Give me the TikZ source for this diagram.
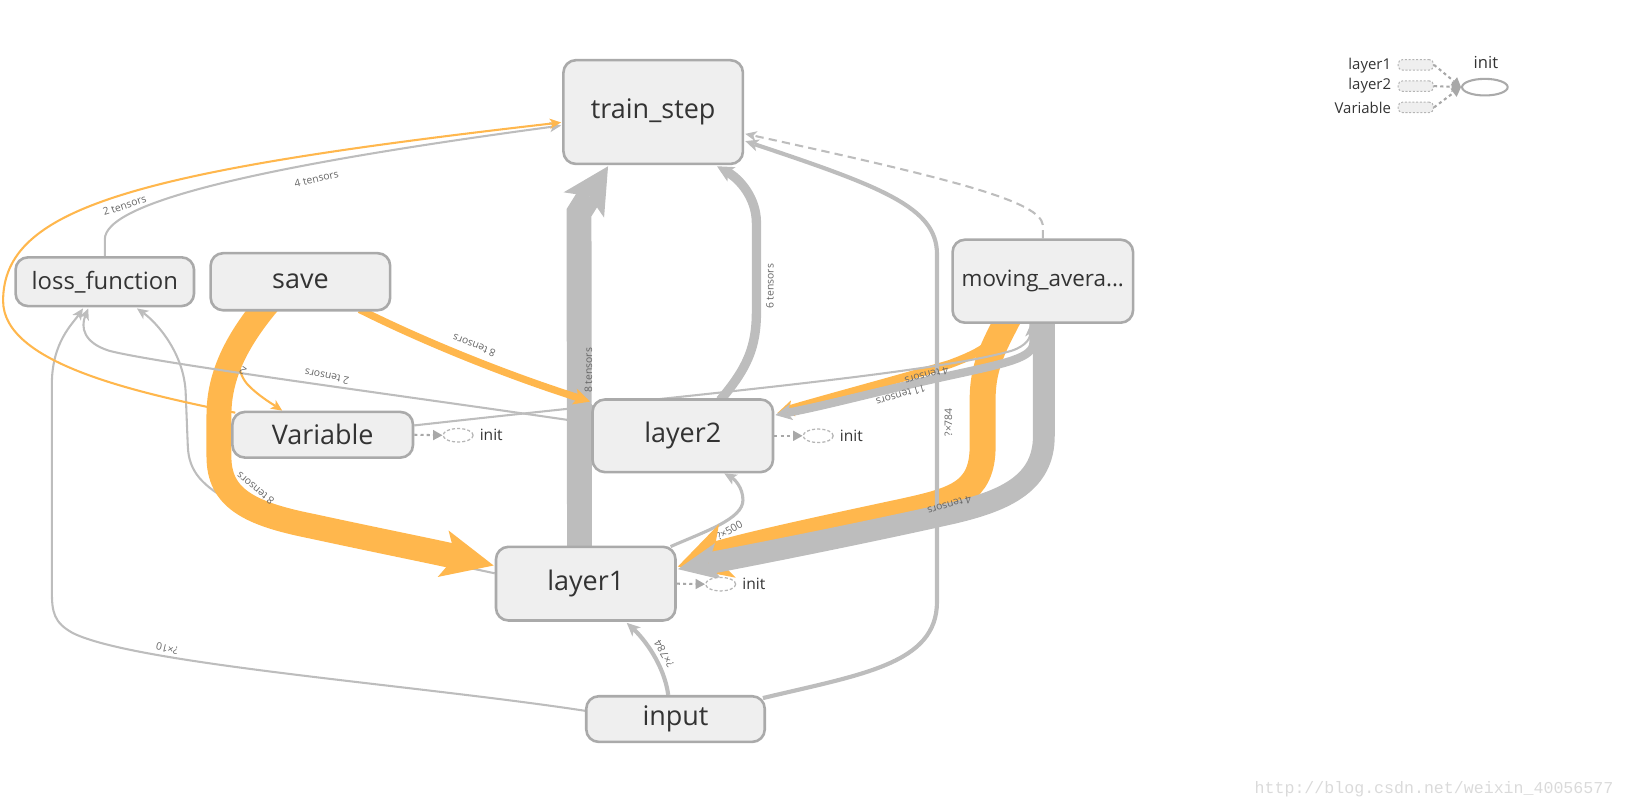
\documentclass[tikz,border=0pt]{standalone}
\usepackage{fontspec}
\setmainfont{Open Sans}
\newfontfamily\wmfont{Liberation Mono}
\usetikzlibrary{arrows.meta,calc,backgrounds,shapes.geometric}
\definecolor{ndfill}{HTML}{EFEFEF}
\definecolor{ndborder}{HTML}{AAAAAA}
\definecolor{ndtext}{HTML}{333333}
\definecolor{eg}{HTML}{BDBDBD}
\definecolor{eo}{HTML}{FFB74D}
\definecolor{labc}{HTML}{666666}
\definecolor{initc}{HTML}{B5B5B5}
\definecolor{dotgray}{HTML}{A8A8A8}
\definecolor{wmc}{HTML}{DADADA}
\tikzset{
  nd/.style={draw=ndborder, fill=ndfill, line width=1.25pt, rounded corners=6pt, text=ndtext, inner sep=0pt, font=\fontsize{13}{15}\selectfont},
  elab/.style={text=labc, font=\fontsize{5}{6}\selectfont, inner sep=0pt},
  ge/.style={draw=eg, line width=1pt},
  oe/.style={draw=eo, line width=1pt},
  dotc/.style={draw=dotgray, line width=1pt, dash pattern=on 1.5pt off 1.5pt},
  initell/.style={draw=initc, line width=0.6pt, dash pattern=on 1.5pt off 1pt, ellipse, minimum width=14.5pt, minimum height=6.5pt, inner sep=0pt, fill=white},
  inittxt/.style={text=ndtext, font=\fontsize{7.5}{8}\selectfont, inner sep=0pt, anchor=west},
  legtxt/.style={text=ndtext, font=\fontsize{7.2}{8}\selectfont, inner sep=0pt, anchor=east},
  legbox/.style={draw=initc, dash pattern=on 1pt off 0.8pt, line width=0.5pt, fill=ndfill, rounded corners=2pt, minimum width=17pt, minimum height=5pt, inner sep=0pt},
  tipthin/.style={-{Stealth[length=5.5pt,width=5pt,inset=1.5pt,line width=0pt]}},
  tipdot/.style={-{Triangle[length=4.5pt,width=5pt,line width=0pt]}},
  tipP/.style={-{Stealth[length=6pt,width=5.5pt,inset=1.5pt,line width=0pt]}},
  tipQ/.style={-{Stealth[length=6.5pt,width=6pt,inset=1.8pt,line width=0pt]}},
  tipM/.style={-{Stealth[length=8pt,width=8pt,inset=2pt,line width=0pt]}},
  tipA/.style={-{Stealth[length=22pt,width=23pt,inset=5pt,line width=0pt]}},
  tipG/.style={-{Stealth[length=25pt,width=23pt,inset=6pt,line width=0pt]}},
  tipN/.style={-{Stealth[length=25pt,width=27pt,inset=7pt,line width=0pt]}},
  tipO/.style={-{Stealth[length=20pt,width=18pt,inset=5pt,line width=0pt]}},
}
\begin{document}
\begin{tikzpicture}[x=0.5pt,y=-0.5pt,line join=round]
\useasboundingbox (0,0) rectangle (1568,780);
% ---------------- nodes
\node[nd, minimum width=86.5pt, minimum height=50pt] (train) at (629.5,108) {train\_step};
\node[nd, minimum width=86pt, minimum height=23.5pt, font=\fontsize{11.5}{13}\selectfont] (loss) at (101,271.5) {loss\_function};
\node[nd, minimum width=86.5pt, minimum height=27.5pt] (save) at (289.5,271.5) {save};
\node[nd, minimum width=87pt, minimum height=40pt, font=\fontsize{10.8}{12}\selectfont] (mov) at (1005,271) {moving\_avera...};
\node[nd, minimum width=87pt, minimum height=22pt] (var) at (311,419) {Variable};
\node[nd, minimum width=87pt, minimum height=35pt] (l2) at (658,420) {layer2};
\node[nd, minimum width=86.5pt, minimum height=35.5pt] (l1) at (564.5,562.5) {layer1};
\node[nd, minimum width=86pt, minimum height=22pt] (inp) at (651,693) {input};
% ---------------- edges (behind nodes)
\begin{pgfonlayer}{background}
% layer1 -> loss_function (runs under the orange band)
\draw[ge, tipthin] ($(l1.west)+(0,-10)$) .. controls (380,532) and (270,510) .. (225,485) .. controls (195,468) and (182,455) .. (181,430) -- (179,380) .. controls (178,340) and (150,310) .. ($(loss.south)+(31,1)$);
% save -> layer1
\draw[oe, line width=12pt, tipG] ($(save.south)+(-28,-12)$) .. controls (230,325) and (211,360) .. (211,400) -- (211,440) .. controls (211,480) and (240,495) .. (300,507) .. controls (360,520) and (420,532) .. ($(l1.west)+(-1,-17.5)$);
% layer1 -> layer2
\draw[ge, line width=1.5pt, tipP] ($(l1.north east)+(-6,1)$) .. controls (680,512) and (716,500) .. (716,482) .. controls (716,470) and (708,462) .. ($(l2.south)+(40,0)$);
\node[elab, rotate=30] (lbP) at (703,511) {?×500};
% moving_average -> layer1
\draw[oe, line width=12.5pt, tipN] ($(mov.south)+(-30,-12)$) .. controls (960,330) and (947,350) .. (947,385) -- (947,430) .. controls (947,475) and (920,482) .. (870,493) .. controls (800,508) and (720,525) .. ($(l1.east)+(1,-16.5)$);
\draw[ge, line width=10.5pt, tipO] ($(mov.south)+(1,-10)$) -- (1006,420) .. controls (1006,465) and (970,482) .. (920,494) .. controls (840,512) and (740,532) .. ($(l1.east)+(1,-14)$);
% moving_average -> layer2
\draw[oe, line width=4pt, tipM] ($(mov.south)+(-38,-4)$) .. controls (960,330) and (950,338) .. (915,351) .. controls (850,370) and (800,383) .. ($(l2.east)+(3,-22)$);
\draw[ge, line width=4pt, tipM] ($(mov.south)+(-9,-4)$) -- (996,330) .. controls (996,345) and (970,350) .. (915,362) .. controls (850,376) and (800,390) .. ($(l2.east)+(1,-20)$);
% layer2 -> loss_function
\draw[ge, tipthin] ($(l2.west)+(0,-12)$) .. controls (400,383) and (150,350) .. (105,338) .. controls (80,330) and (78,315) .. ($(loss.south)+(-16,1)$);
% Variable -> moving_average
\draw[ge, tipthin] ($(var.east)+(0,-9)$) .. controls (650,382) and (900,360) .. (975,338) .. controls (990,333) and (993,325) .. ($(mov.south)+(-12,1)$);
% input -> loss_function
\draw[ge, tipthin] ($(inp.west)+(0,-8)$) .. controls (400,660) and (130,640) .. (70,610) .. controls (52,600) and (50,590) .. (50,570) -- (50,370) .. controls (50,330) and (70,312) .. ($(loss.south)+(-21,1)$);
% loss_function -> train_step
\draw[ge, tipthin] (loss.north) -- ($(loss.north)+(0,-16)$) .. controls (101,195) and (250,160) .. ($(train.west)+(-1,13)$);
% Variable -> train_step
\draw[oe, tipthin] ($(var.north west)+(4,2)$) .. controls (130,378) and (3,350) .. (3,290) .. controls (3,200) and (130,165) .. ($(train.west)+(-1,10)$);
% save -> Variable
\draw[oe, tipthin] ($(save.south)+(-50,-2)$) .. controls (225,340) and (228,360) .. (240,372) .. controls (250,382) and (262,389) .. ($(var.north)+(-39,0)$);
% input -> layer1
\draw[ge, line width=2pt, tipQ] ($(inp.north)+(-7,0)$) .. controls (640,640) and (620,615) .. ($(l1.south)+(39.5,1)$);
% moving_average -> train_step (control edge)
\draw[ge, dash pattern=on 4pt off 2.5pt, tipthin] (mov.north) -- ($(mov.north)+(0,-13)$) .. controls (1002,195) and (930,175) .. ($(train.east)+(1,21)$);
% layer1 -> train_step
\draw[ge, line width=12pt, tipA] ($(l1.north)+(-6,5)$) -- (558,205) -- ($(train.south)+(-43.5,1)$);
% save -> layer2
\draw[oe, line width=3.5pt, tipM] ($(save.south)+(57,-2)$) .. controls (410,330) and (490,362) .. ($(l2.west)+(-1,-33)$);
% layer2 -> train_step
\draw[ge, line width=4.5pt, tipM] ($(l2.north)+(36,2)$) .. controls (720,355) and (729,335) .. (729,300) -- (729,215) .. controls (729,190) and (712,172) .. ($(train.south)+(61.5,1)$);
% input -> train_step
\draw[ge, line width=2pt, tipQ] ($(inp.north east)+(-3,3)$) .. controls (830,650) and (903,640) .. (903,580) -- (903,245) .. controls (903,200) and (850,180) .. ($(train.east)+(1,28)$);
\end{pgfonlayer}
% ---------------- edge labels
\node[elab, rotate=90] (lbA) at (567,357) {8 tensors};
\node[elab, rotate=90] (lbB) at (742,276) {6 tensors};
\node[elab, rotate=90] (lbC) at (914,407) {?×784};
\node[elab, rotate=13] (lbE) at (305,172) {4 tensors};
\node[elab, rotate=18] (lbF) at (120,198) {2 tensors};
\node[elab, rotate=159] (lbH) at (457,333) {8 tensors};
\node[elab, rotate=169] (lbJ) at (315,363) {2 tensors};
\node[elab, rotate=145] (lbI) at (234,357) {2};
\node[elab, rotate=141] (lbG) at (246,471) {8 tensors};
\node[elab, rotate=195] (lbL) at (893,362) {4 tensors};
\node[elab, rotate=196] (lbL2) at (868,381) {11 tensors};
\node[elab, rotate=196] (lbN) at (915,487) {4 tensors};
\node[elab, rotate=120] (lbQ) at (640,630) {?×784};
\node[elab, rotate=167] (lbR) at (161,625) {?×10};
% ---------------- init ops
\node[initell] (vi) at (441.5,419.5) {};
\draw[dotc, tipdot] (var.east) -- (vi.west);
\node[inittxt] (vit) at (462,419.5) {init};
\node[initell] (l2i) at (788.5,420) {};
\draw[dotc, tipdot] (l2.east) -- (l2i.west);
\node[inittxt] (l2it) at (809,420) {init};
\node[initell] (l1i) at (694.5,563) {};
\draw[dotc, tipdot] (l1.east) -- (l1i.west);
\node[inittxt] (l1it) at (715,563) {init};
% ---------------- legend
\node[legtxt] (lg1) at (1341,63) {layer1};
\node[legtxt] (lg2) at (1341,83) {layer2};
\node[legtxt] (lg3) at (1341,104) {Variable};
\node[legbox] (lb1) at (1364.5,62.5) {};
\node[legbox] (lb2) at (1364.5,83) {};
\node[legbox] (lb3) at (1364.5,103.5) {};
\node[draw=ndborder, line width=1pt, ellipse, minimum width=22pt, minimum height=8pt, inner sep=0pt, fill=white] (le) at (1431,84) {};
\node[text=ndtext, font=\fontsize{8}{9}\selectfont, inner sep=0pt] (leg) at (1432,60) {init};
\draw[dotc, tipdot] (lb1.east) -- (le.west);
\draw[dotc, tipdot] (lb2.east) -- (le.west);
\draw[dotc, tipdot] (lb3.east) -- (le.west);
% ---------------- watermark
\node[font=\wmfont\fontsize{8}{8}\selectfont, text=wmc, inner sep=0pt] (wm) at (1382,761) {http://blog.csdn.net/weixin\_40056577};
\end{tikzpicture}
\end{document}
